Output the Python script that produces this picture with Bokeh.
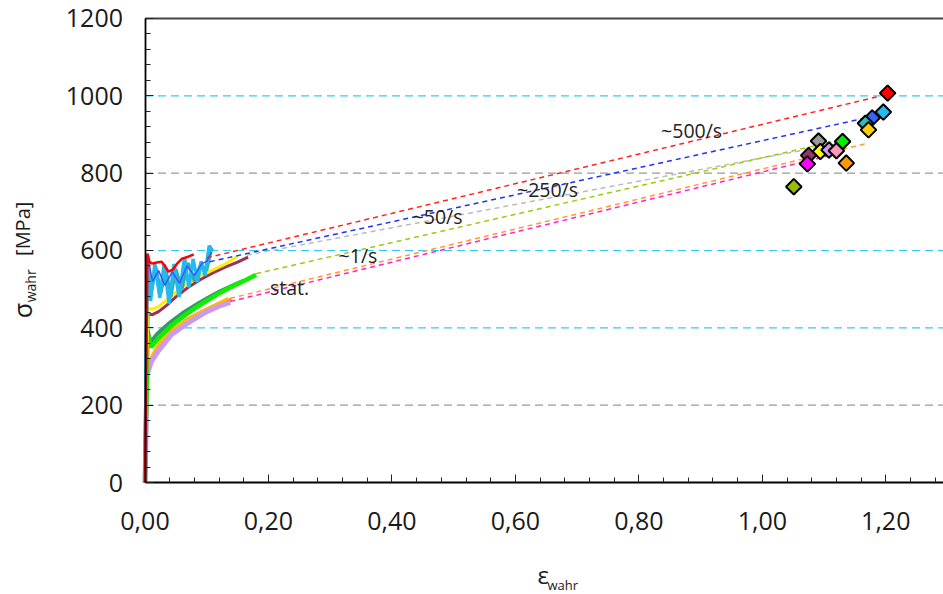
import numpy as np
from bokeh.plotting import figure
from bokeh.models import Range1d, FixedTicker, Label
from bokeh.embed import file_html
from bokeh.resources import INLINE

# ---------------- data ----------------
x_tick_values = [0.0, 0.2, 0.4, 0.6, 0.8, 1.0, 1.2]
x_tick_labels = ["0,00", "0,20", "0,40", "0,60", "0,80", "1,00", "1,20"]
x_minor_values = [0.04, 0.08, 0.12, 0.16, 0.24, 0.28, 0.32, 0.36, 0.44, 0.48, 0.52, 0.56,
                  0.64, 0.68, 0.72, 0.76, 0.84, 0.88, 0.92, 0.96, 1.04, 1.08, 1.12, 1.16,
                  1.24, 1.28]
y_tick_values = [0, 200, 400, 600, 800, 1000, 1200]
y_tick_labels = ["0", "200", "400", "600", "800", "1000", "1200"]
y_minor_values = [v for v in range(0, 1201, 40) if v % 200 != 0]

x_axis_max = 1.2935
y_axis_max = 1200

grid_values = [200, 400, 600, 800, 1000]
grid_colors = ["#9a9a9a", "#33ccee", "#33ccee", "#9a9a9a", "#33ccee"]

# measured flow curves (true strain, true stress)
red_x = [0.0, 0.002, 0.004, 0.007, 0.011, 0.019, 0.027, 0.033, 0.038, 0.046, 0.052, 0.060, 0.070, 0.079]
red_y = [0, 300, 592, 572, 566, 569, 571, 558, 545, 552, 566, 579, 584, 590]

cyan_x = [0.0, 0.002, 0.004, 0.009, 0.016, 0.024, 0.031, 0.039, 0.047, 0.055, 0.064, 0.071,
          0.078, 0.085, 0.091, 0.097, 0.104, 0.110]
cyan_y = [0, 350, 585, 470, 565, 478, 565, 462, 565, 480, 582, 505, 578, 518, 572, 535, 612, 598]

teal_x = [0.0, 0.002, 0.004, 0.010, 0.018, 0.026, 0.034, 0.042, 0.050, 0.060, 0.070, 0.080, 0.090, 0.100, 0.107]
teal_y = [0, 380, 590, 490, 555, 490, 552, 480, 552, 500, 568, 520, 565, 548, 600]

blue_x = [0.0, 0.002, 0.004, 0.012, 0.022, 0.032, 0.044, 0.056, 0.068, 0.080, 0.092, 0.100, 0.108]
blue_y = [0, 400, 588, 520, 548, 510, 545, 515, 560, 535, 566, 572, 596]

yellow_x = [0.0, 0.002, 0.005, 0.012, 0.022, 0.035, 0.050, 0.070, 0.090, 0.110, 0.130, 0.150]
yellow_y = [0, 250, 450, 448, 455, 472, 492, 515, 535, 550, 565, 585]

maroon_x = [0.0, 0.002, 0.005, 0.012, 0.022, 0.035, 0.050, 0.070, 0.090, 0.110, 0.130, 0.150, 0.167]
maroon_y = [0, 240, 436, 434, 442, 458, 480, 505, 525, 542, 557, 570, 583]

lime_x = [0.0, 0.002, 0.004, 0.010, 0.020, 0.040, 0.060, 0.080, 0.100, 0.120, 0.140, 0.160, 0.180]
lime_y = [0, 200, 385, 350, 370, 402, 427, 450, 470, 489, 506, 521, 537]

seagreen_x = [0.0, 0.002, 0.004, 0.009, 0.020, 0.040, 0.060, 0.080, 0.100, 0.120, 0.140, 0.160]
seagreen_y = [0, 210, 395, 362, 385, 413, 437, 457, 476, 493, 508, 522]

gold_x = [0.0, 0.002, 0.005, 0.012, 0.025, 0.050, 0.080, 0.110, 0.135]
gold_y = [0, 160, 290, 330, 365, 402, 432, 457, 476]

orange_x = [0.0, 0.002, 0.004, 0.010, 0.020, 0.040, 0.070, 0.100, 0.130, 0.140]
orange_y = [0, 150, 285, 320, 352, 390, 424, 449, 469, 474]

plum_x = [0.0, 0.002, 0.003, 0.010, 0.022, 0.043, 0.070, 0.0975, 0.120, 0.138]
plum_y = [0, 150, 277, 312, 341, 383, 413, 440, 456, 466]

# extrapolation lines (start -> end)
trend_x0 = [0.100, 0.105, 0.165, 0.180, 0.138, 0.138]
trend_y0 = [581, 571, 588, 540, 476, 468]
trend_x1 = [1.190, 1.200, 1.118, 1.121, 1.170, 1.105]
trend_y1 = [999, 954, 875, 884, 877, 844]
trend_colors = ["#ff2222", "#2233ee", "#bbbbbb", "#99cc11", "#ff9933", "#ff22cc"]

# end points (diamonds)
dia_x = [1.203, 1.196, 1.178, 1.167, 1.172, 1.091, 1.130, 1.094, 1.108, 1.120, 1.075, 1.073, 1.136, 1.051]
dia_y = [1007, 958, 943, 929, 912, 883, 882, 856, 860, 858, 846, 824, 826, 765]
dia_colors = ["#ff0000", "#22bbee", "#3366ff", "#33bbbb", "#ffcc00", "#999999", "#00ee00",
              "#ffff00", "#cc99ee", "#ff99bb", "#993366", "#ff00ff", "#ff9900", "#99bb00"]

rate_labels = ["~500/s", "~250/s", "~50/s", "~1/s", "stat."]
rate_x = [0.8855, 0.652, 0.474, 0.345, 0.234]
rate_y = [910, 758, 689, 588, 505]

FONT = "Open Sans"
TXT = "#1a1a1a"

# frame covers the whole canvas; axes are pinned at x=0 / y=0
p = figure(width=943, height=594, output_backend="svg", toolbar_location=None,
           x_range=Range1d(-0.2341, 1.2935), y_range=Range1d(-289.6, 1246.5),
           min_border=0)
p.outline_line_color = None
p.background_fill_color = "white"
p.border_fill_color = "white"
p.xgrid.visible = False
p.ygrid.visible = False

# gridlines
p.segment(x0=[0] * len(grid_values), y0=grid_values,
          x1=[x_axis_max] * len(grid_values), y1=grid_values,
          line_color=grid_colors, line_width=1.2, line_dash="8 5", level="underlay")
# top border of plot area
p.segment(x0=[0], y0=[y_axis_max], x1=[x_axis_max], y1=[y_axis_max],
          line_color="#444444", line_width=2)

# axes
xa = p.xaxis[0]
ya = p.yaxis[0]
xa.fixed_location = 0
ya.fixed_location = 0
xa.bounds = (0, x_axis_max)
ya.bounds = (0, y_axis_max)
xa.ticker = FixedTicker(ticks=x_tick_values, minor_ticks=x_minor_values)
xa.major_label_overrides = dict(zip(x_tick_values, x_tick_labels))
ya.ticker = FixedTicker(ticks=y_tick_values, minor_ticks=y_minor_values)
ya.major_label_overrides = dict(zip(y_tick_values, y_tick_labels))
for ax in (xa, ya):
    ax.axis_line_color = "black"
    ax.axis_line_width = 1.8
    ax.major_tick_in = 8
    ax.major_tick_out = 0
    ax.minor_tick_in = 5
    ax.minor_tick_out = 0
    ax.major_tick_line_color = "#222222"
    ax.minor_tick_line_color = "#222222"
    ax.major_label_text_font = FONT
    ax.major_label_text_font_size = "25px"
    ax.major_label_text_color = TXT
xa.major_label_standoff = 29
ya.major_label_standoff = 22

# curves
curves = [
    (orange_x, orange_y, "#ff8800", 3),
    (gold_x, gold_y, "#ffbb00", 3),
    (plum_x, plum_y, "#cc99ee", 5),
    (seagreen_x, seagreen_y, "#339966", 4),
    (lime_x, lime_y, "#11ee00", 4.5),
    (maroon_x, maroon_y, "#993355", 3),
    (yellow_x, yellow_y, "#ffee00", 3),
    (teal_x, teal_y, "#33aaaa", 3),
    (cyan_x, cyan_y, "#22bbee", 3.5),
    (blue_x, blue_y, "#3355ff", 1.5),
    (red_x, red_y, "#ff0000", 2.5),
]
for cx, cy, cc, cw in curves:
    p.line(cx, cy, line_color=cc, line_width=cw)

# extrapolation lines
p.segment(x0=trend_x0, y0=trend_y0, x1=trend_x1, y1=trend_y1,
          line_color=trend_colors, line_width=1.5, line_dash="5 4")

# end-point diamonds
p.scatter(dia_x, dia_y, marker="square", angle=np.pi / 4, size=11,
          fill_color=dia_colors, line_color="black", line_width=2)

# rate labels
for t, lx, ly in zip(rate_labels, rate_x, rate_y):
    p.add_layout(Label(x=lx, y=ly, text=t, text_align="center", text_baseline="middle",
                       text_font=FONT, text_font_size="19.5px", text_color="#222222"))

# axis titles (with subscripts)
p.add_layout(Label(x=-0.1985, y=425, text="σ", angle=np.pi / 2, text_align="left",
                   text_baseline="alphabetic", text_font=FONT, text_font_size="25px",
                   text_color=TXT))
p.add_layout(Label(x=-0.1855, y=466, text="wahr", angle=np.pi / 2, text_align="left",
                   text_baseline="alphabetic", text_font=FONT, text_font_size="14px",
                   text_color=TXT))
p.add_layout(Label(x=-0.1985, y=586, text="[MPa]", angle=np.pi / 2, text_align="left",
                   text_baseline="alphabetic", text_font=FONT, text_font_size="20px",
                   text_color=TXT))
p.add_layout(Label(x=0.636, y=-238, text="ε", text_align="left",
                   text_baseline="alphabetic", text_font=FONT, text_font_size="24px",
                   text_color=TXT))
p.add_layout(Label(x=0.652, y=-266, text="wahr", text_align="left",
                   text_baseline="alphabetic", text_font=FONT, text_font_size="13px",
                   text_color=TXT))

open("out.html", "w").write(file_html(p, INLINE))
